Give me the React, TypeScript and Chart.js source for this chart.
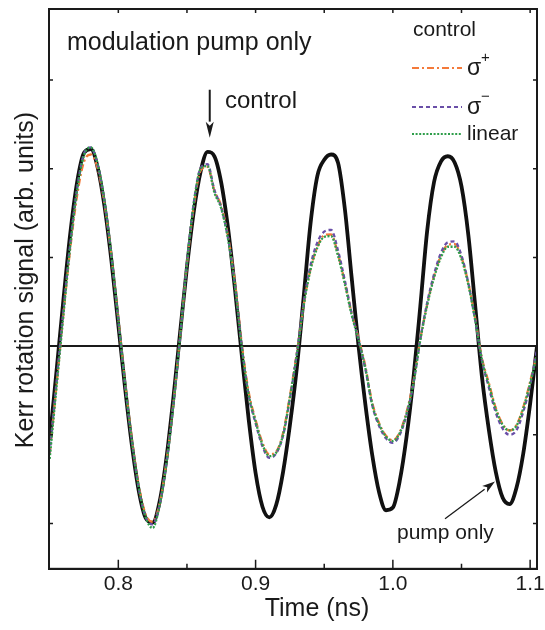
import React, { useEffect, useRef } from "react";
import { Chart, registerables } from "chart.js";

Chart.register(...registerables);

// ---------------- data ----------------
const TIME = [
  0.750, 0.755, 0.760, 0.765, 0.770, 0.775, 0.780, 0.785, 0.790, 0.795,
  0.800, 0.805, 0.810, 0.815, 0.820, 0.825, 0.830, 0.835, 0.840, 0.845,
  0.850, 0.855, 0.860, 0.865, 0.870, 0.875, 0.880, 0.885, 0.890, 0.895,
  0.900, 0.905, 0.910, 0.915, 0.920, 0.925, 0.930, 0.935, 0.940, 0.945,
  0.950, 0.955, 0.960, 0.965, 0.970, 0.975, 0.980, 0.985, 0.990, 0.995,
  1.000, 1.005, 1.010, 1.015, 1.020, 1.025, 1.030, 1.035, 1.040, 1.045,
  1.050, 1.055, 1.060, 1.065, 1.070, 1.075, 1.080, 1.085, 1.090, 1.095,
  1.100, 1.105,
];

const PUMP_ONLY = [
  -1.06, -0.28, 0.52, 1.27, 1.85, 2.18, 2.22, 2.01, 1.57, 0.96,
  0.24, -0.48, -1.13, -1.64, -1.94, -1.99, -1.76, -1.27, -0.60, 0.15,
  0.89, 1.52, 1.97, 2.19, 2.14, 1.84, 1.32, 0.64, -0.11, -0.83,
  -1.43, -1.81, -1.93, -1.79, -1.42, -0.89, -0.25, 0.55, 1.38, 1.92,
  2.10, 2.16, 2.07, 1.55, 0.77, 0.00, -0.66, -1.23, -1.65, -1.85,
  -1.82, -1.52, -1.02, -0.36, 0.45, 1.30, 1.85, 2.08, 2.14, 2.07,
  1.80, 1.25, 0.45, -0.36, -0.95, -1.42, -1.71, -1.78, -1.60, -1.21,
  -0.65, 0.00,
];

const SIGMA_PLUS = [
  -1.22, -0.44, 0.36, 1.10, 1.70, 2.08, 2.16, 2.00, 1.60, 1.01,
  0.31, -0.42, -1.06, -1.58, -1.90, -1.98, -1.78, -1.31, -0.66, 0.11,
  0.92, 1.58, 1.98, 2.02, 1.75, 1.58, 1.23, 0.72, 0.02, -0.52,
  -0.83, -1.09, -1.22, -1.19, -0.98, -0.56, -0.08, 0.46, 0.87, 1.12,
  1.25, 1.26, 1.04, 0.72, 0.37, 0.09, -0.23, -0.64, -0.87, -1.01,
  -1.06, -0.97, -0.74, -0.40, 0.08, 0.47, 0.79, 1.02, 1.14, 1.15,
  1.00, 0.71, 0.31, -0.14, -0.42, -0.70, -0.88, -0.95, -0.89, -0.69,
  -0.40, -0.08,
];

const SIGMA_MINUS = [
  -1.20, -0.40, 0.40, 1.16, 1.78, 2.17, 2.24, 2.04, 1.62, 1.01,
  0.29, -0.44, -1.09, -1.61, -1.93, -2.01, -1.79, -1.32, -0.67, 0.10,
  0.94, 1.62, 2.01, 2.05, 1.76, 1.56, 1.21, 0.69, -0.01, -0.56,
  -0.87, -1.13, -1.26, -1.21, -1.01, -0.59, -0.09, 0.48, 0.91, 1.17,
  1.29, 1.31, 1.08, 0.74, 0.37, 0.07, -0.26, -0.67, -0.90, -1.04,
  -1.09, -1.00, -0.77, -0.42, 0.08, 0.49, 0.81, 1.05, 1.17, 1.18,
  1.02, 0.71, 0.29, -0.17, -0.47, -0.75, -0.93, -1.00, -0.95, -0.74,
  -0.44, -0.04,
];

const LINEAR = [
  -1.27, -0.46, 0.35, 1.13, 1.76, 2.15, 2.24, 2.05, 1.63, 1.02,
  0.30, -0.43, -1.08, -1.60, -1.93, -2.05, -1.80, -1.33, -0.68, 0.10,
  0.93, 1.61, 2.00, 2.03, 1.73, 1.55, 1.20, 0.68, -0.02, -0.55,
  -0.85, -1.11, -1.24, -1.20, -1.00, -0.58, -0.10, 0.45, 0.86, 1.11,
  1.23, 1.24, 1.02, 0.70, 0.35, 0.07, -0.25, -0.66, -0.88, -1.02,
  -1.07, -0.98, -0.76, -0.42, 0.07, 0.46, 0.77, 1.00, 1.12, 1.12,
  0.98, 0.69, 0.29, -0.16, -0.44, -0.71, -0.89, -0.95, -0.90, -0.70,
  -0.42, -0.10,
];

const X_MAJOR_TICKS = [0.8, 0.9, 1.0, 1.1];
const X_MINOR_TICKS = [0.85, 0.95, 1.05];
const Y_TICKS = [-2, -1, 0, 1, 2, 3];

const X_MIN = 0.7495;
const X_MAX = 1.105;
const Y_MIN = -2.51;
const Y_MAX = 3.8;

const X_TITLE = "Time (ns)";
const Y_TITLE = "Kerr rotation signal (arb. units)";
const PANEL_TEXT = "modulation pump only";
const LEGEND_TITLE = "control";

const FONT = "'Liberation Sans', Arial, Helvetica, sans-serif";
const INK = "#1a1a1a";

// annotation anchors in data coordinates
const CONTROL_ARROW = { from: [0.8666, 2.89], to: [0.8666, 2.35] };
const CONTROL_LABEL = { at: [0.8777, 2.68], text: "control" };
const PUMP_ARROW = { from: [1.038, -1.947], to: [1.0744, -1.525] };
const PUMP_LABEL = { at: [1.003, -2.175], text: "pump only" };
const PANEL_LABEL_AT = [0.7626, 3.341];

function arrow(ctx: CanvasRenderingContext2D, x1: number, y1: number, x2: number, y2: number, lw: number, headLen: number, headW: number) {
  const ang = Math.atan2(y2 - y1, x2 - x1);
  const bx = x2 - Math.cos(ang) * headLen;
  const by = y2 - Math.sin(ang) * headLen;
  ctx.save();
  ctx.strokeStyle = INK;
  ctx.fillStyle = INK;
  ctx.lineWidth = lw;
  ctx.setLineDash([]);
  ctx.beginPath();
  ctx.moveTo(x1, y1);
  ctx.lineTo(bx, by);
  ctx.stroke();
  ctx.beginPath();
  ctx.moveTo(x2, y2);
  ctx.lineTo(bx + Math.sin(ang) * headW / 2, by - Math.cos(ang) * headW / 2);
  ctx.lineTo(bx + Math.cos(ang) * headLen * 0.25, by + Math.sin(ang) * headLen * 0.25);
  ctx.lineTo(bx - Math.sin(ang) * headW / 2, by + Math.cos(ang) * headW / 2);
  ctx.closePath();
  ctx.fill();
  ctx.restore();
}

const decorPlugin = {
  id: "decor",
  afterDraw(chart: any) {
    const ctx: CanvasRenderingContext2D = chart.ctx;
    const { left, right, top, bottom } = chart.chartArea;
    const xs = chart.scales.x;
    const ys = chart.scales.y;
    const px = (v: number) => xs.getPixelForValue(v);
    const py = (v: number) => ys.getPixelForValue(v);

    ctx.save();
    // frame
    ctx.strokeStyle = INK;
    ctx.lineWidth = 2;
    ctx.setLineDash([]);
    ctx.strokeRect(left, top, right - left, bottom - top);

    // inward ticks
    ctx.lineWidth = 1.5;
    ctx.beginPath();
    X_MAJOR_TICKS.forEach((v) => {
      const x = px(v);
      ctx.moveTo(x, bottom);
      ctx.lineTo(x, bottom - 9);
      ctx.moveTo(x, top);
      ctx.lineTo(x, top + 4);
    });
    X_MINOR_TICKS.forEach((v) => {
      const x = px(v);
      ctx.moveTo(x, bottom);
      ctx.lineTo(x, bottom - 5);
      ctx.moveTo(x, top);
      ctx.lineTo(x, top + 4);
    });
    Y_TICKS.forEach((v) => {
      const y = py(v);
      ctx.moveTo(left, y);
      ctx.lineTo(left + 4, y);
      ctx.moveTo(right, y);
      ctx.lineTo(right - 4, y);
    });
    ctx.stroke();

    // axis titles
    ctx.fillStyle = INK;
    ctx.font = `25px ${FONT}`;
    ctx.textAlign = "center";
    ctx.textBaseline = "alphabetic";
    ctx.fillText(X_TITLE, 317, 616);
    ctx.save();
    ctx.translate(33, 280);
    ctx.rotate(-Math.PI / 2);
    ctx.fillText(Y_TITLE, 0, 0);
    ctx.restore();

    // annotations
    ctx.textAlign = "left";
    ctx.font = `25px ${FONT}`;
    ctx.fillText(PANEL_TEXT, px(PANEL_LABEL_AT[0]), py(PANEL_LABEL_AT[1]));
    ctx.font = `24px ${FONT}`;
    ctx.fillText(CONTROL_LABEL.text, px(CONTROL_LABEL.at[0]), py(CONTROL_LABEL.at[1]));
    arrow(ctx, px(CONTROL_ARROW.from[0]), py(CONTROL_ARROW.from[1]), px(CONTROL_ARROW.to[0]), py(CONTROL_ARROW.to[1]), 2, 16, 8);
    ctx.font = `21px ${FONT}`;
    ctx.fillStyle = INK;
    ctx.fillText(PUMP_LABEL.text, px(PUMP_LABEL.at[0]), py(PUMP_LABEL.at[1]));
    arrow(ctx, px(PUMP_ARROW.from[0]), py(PUMP_ARROW.from[1]), px(PUMP_ARROW.to[0]), py(PUMP_ARROW.to[1]), 1.3, 13, 8);

    // legend
    const lx = right - 125;
    ctx.fillStyle = INK;
    ctx.font = `21px ${FONT}`;
    ctx.fillText(LEGEND_TITLE, lx + 1, top + 27);
    const rows = [
      { ds: 1, lineY: top + 59, sup: "+", base: top + 66 },
      { ds: 2, lineY: top + 98, sup: "\u2212", base: top + 105 },
      { ds: 3, lineY: top + 125, sup: "", base: top + 131 },
    ];
    rows.forEach((r) => {
      const d = chart.data.datasets[r.ds];
      ctx.save();
      ctx.strokeStyle = d.borderColor;
      ctx.lineWidth = 2.2;
      ctx.setLineDash(d.borderDash || []);
      ctx.beginPath();
      ctx.moveTo(lx, r.lineY);
      ctx.lineTo(lx + 50, r.lineY);
      ctx.stroke();
      ctx.restore();
      ctx.fillStyle = INK;
      if (r.ds === 3) {
        ctx.font = `21px ${FONT}`;
        ctx.fillText(d.label, lx + 55, r.base);
      } else {
        ctx.font = `23px ${FONT}`;
        ctx.fillText("\u03c3", lx + 55, r.base);
        ctx.font = `15px ${FONT}`;
        ctx.fillText(r.sup, lx + 69, r.base - 13);
      }
    });
    ctx.restore();
  },
};

export default function App() {
  const ref = useRef<HTMLCanvasElement | null>(null);

  useEffect(() => {
    document.body.style.margin = "0";
    const canvas = ref.current;
    if (!canvas) return;
    const mk = (vals: number[]) => TIME.map((t, i) => ({ x: t, y: vals[i] }));
    const chart = new Chart(canvas, {
      type: "line",
      data: {
        datasets: [
          {
            label: "pump only",
            data: mk(PUMP_ONLY),
            borderColor: "#111111",
            borderWidth: 3.8,
            pointRadius: 0,
            cubicInterpolationMode: "monotone",
            order: 4,
          },
          {
            label: "\u03c3\u207a",
            data: mk(SIGMA_PLUS),
            borderColor: "#f47a3a",
            borderWidth: 2.3,
            borderDash: [7, 3, 2, 3],
            pointRadius: 0,
            cubicInterpolationMode: "monotone",
            order: 3,
          },
          {
            label: "\u03c3\u207b",
            data: mk(SIGMA_MINUS),
            borderColor: "#6a4fa8",
            borderWidth: 2.3,
            borderDash: [4, 3],
            pointRadius: 0,
            cubicInterpolationMode: "monotone",
            order: 2,
          },
          {
            label: "linear",
            data: mk(LINEAR),
            borderColor: "#2e9e4a",
            borderWidth: 2.3,
            borderDash: [2, 1.6],
            pointRadius: 0,
            cubicInterpolationMode: "monotone",
            order: 1,
          },
        ],
      },
      options: {
        responsive: false,
        animation: false,
        devicePixelRatio: 1,
        layout: { padding: { left: 49, right: 8, top: 9, bottom: 30 } },
        plugins: {
          legend: { display: false },
          tooltip: { enabled: false },
          title: { display: false },
        },
        scales: {
          x: {
            type: "linear",
            min: X_MIN,
            max: X_MAX,
            afterBuildTicks: (s: any) => {
              s.ticks = X_MAJOR_TICKS.map((v) => ({ value: v }));
            },
            afterFit: (s: any) => {
              s.paddingLeft = 0;
              s.paddingRight = 0;
            },
            grid: { drawOnChartArea: false, drawTicks: false },
            border: { display: true, color: INK, width: 2 },
            ticks: {
              font: { family: FONT, size: 21 },
              color: INK,
              padding: 3,
              maxRotation: 0,
              autoSkip: false,
              callback: (v: any) => Number(v).toFixed(1),
            },
          },
          y: {
            type: "linear",
            min: Y_MIN,
            max: Y_MAX,
            afterBuildTicks: (s: any) => {
              s.ticks = Y_TICKS.map((v) => ({ value: v }));
            },
            grid: {
              drawOnChartArea: true,
              drawTicks: false,
              lineWidth: 2,
              color: (c: any) => (c.tick && c.tick.value === 0 ? INK : "rgba(0,0,0,0)"),
            },
            border: { display: true, color: INK, width: 2 },
            ticks: { display: false },
          },
        },
      },
      plugins: [decorPlugin],
    } as any);
    return () => chart.destroy();
  }, []);

  return (
    <div style={{ width: 545, height: 630, background: "#fff" }}>
      <canvas ref={ref} width={545} height={630} style={{ display: "block", width: 545, height: 630 }} />
    </div>
  );
}
